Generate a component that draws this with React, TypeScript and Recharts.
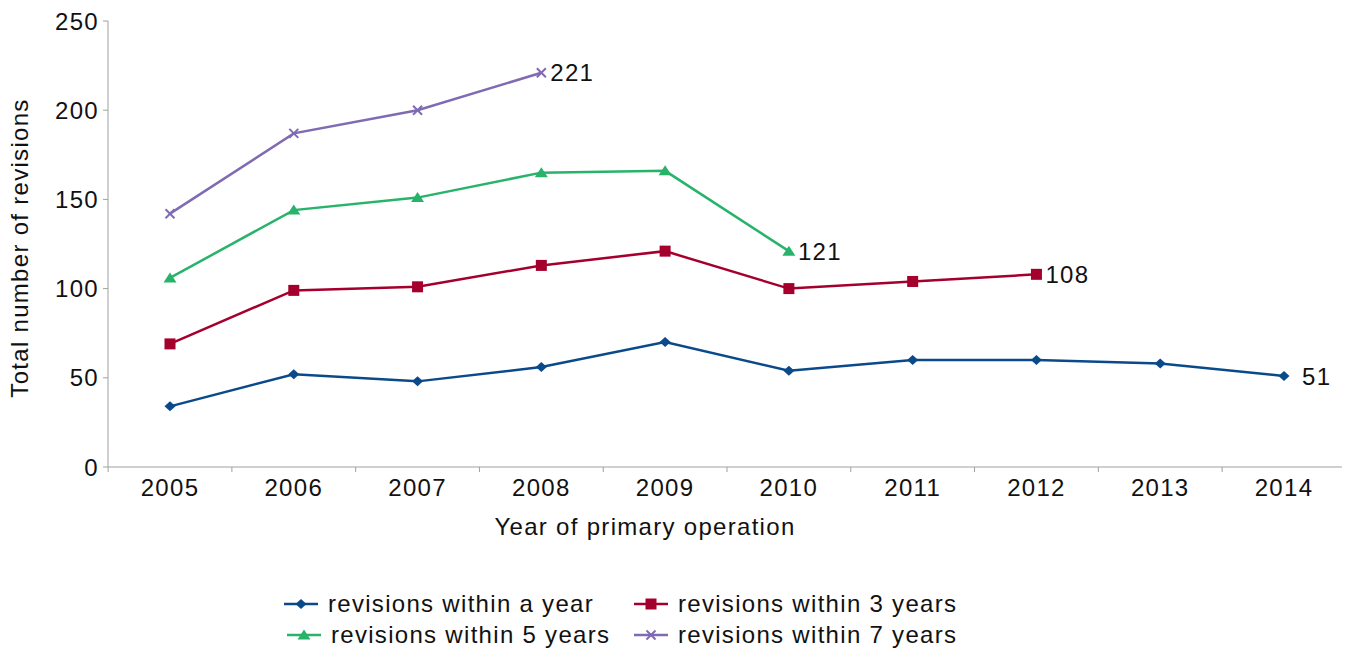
import React from "react";
import { LineChart, Line, XAxis, YAxis, Legend, LabelList } from "recharts";

const years = ["2005", "2006", "2007", "2008", "2009", "2010", "2011", "2012", "2013", "2014"];
const withinYear = [34, 52, 48, 56, 70, 54, 60, 60, 58, 51];
const within3 = [69, 99, 101, 113, 121, 100, 104, 108, null, null];
const within5 = [106, 144, 151, 165, 166, 121, null, null, null, null];
const within7 = [142, 187, 200, 221, null, null, null, null, null, null];
const yTicks = [0, 50, 100, 150, 200, 250];

const data = years.map((year, i) => ({
  year,
  y1: withinYear[i],
  y3: within3[i],
  y5: within5[i],
  y7: within7[i],
}));

const W = 1342;
const H = 642;
const Y_AXIS_W = 100;
const X_AXIS_H = 80;
const LEGEND_H = 103;
const MARGIN = { top: 13, right: 4, bottom: 0, left: 0 };
const PAD = 62;
const PLOT_W = W - MARGIN.left - MARGIN.right - Y_AXIS_W;
const BW = (PLOT_W - 2 * PAD) / (years.length - 1);
const AXIS_Y = H - LEGEND_H - X_AXIS_H - MARGIN.bottom;
const AXIS_COLOR = "#a0a0a0";
const TEXT = "#111";
const FONT = "'Liberation Sans', Arial, sans-serif";
const FS = 24;

type Shape = "diamond" | "square" | "triangle" | "cross";

const series: { key: string; name: string; color: string; shape: Shape; values: (number | null)[]; labelDx: number }[] = [
  { key: "y1", name: "revisions within a year", color: "#0a4a8a", shape: "diamond", values: withinYear, labelDx: 18 },
  { key: "y3", name: "revisions within 3 years", color: "#a5002d", shape: "square", values: within3, labelDx: 9 },
  { key: "y5", name: "revisions within 5 years", color: "#28b36a", shape: "triangle", values: within5, labelDx: 9 },
  { key: "y7", name: "revisions within 7 years", color: "#7f6ab3", shape: "cross", values: within7, labelDx: 9 },
];

const Marker = ({ cx, cy, shape, color }: { cx: number; cy: number; shape: Shape; color: string }) => {
  if (cx == null || cy == null) return null;
  if (shape === "diamond")
    return <polygon points={`${cx},${cy - 5} ${cx + 5.5},${cy} ${cx},${cy + 5} ${cx - 5.5},${cy}`} fill={color} />;
  if (shape === "square") return <rect x={cx - 5.5} y={cy - 5.5} width={11} height={11} fill={color} />;
  if (shape === "triangle")
    return <polygon points={`${cx},${cy - 5.5} ${cx + 6.5},${cy + 4.5} ${cx - 6.5},${cy + 4.5}`} fill={color} />;
  return (
    <g stroke={color} strokeWidth={2}>
      <line x1={cx - 4.5} y1={cy - 4.5} x2={cx + 4.5} y2={cy + 4.5} />
      <line x1={cx - 4.5} y1={cy + 4.5} x2={cx + 4.5} y2={cy - 4.5} />
    </g>
  );
};

const XTick = (props: any) => {
  const { x, payload, index } = props;
  const last = index === years.length - 1;
  return (
    <g>
      <line x1={x - BW / 2} x2={x - BW / 2} y1={AXIS_Y} y2={AXIS_Y + 5} stroke={AXIS_COLOR} />
      {last && <line x1={x + BW / 2} x2={x + BW / 2} y1={AXIS_Y} y2={AXIS_Y + 5} stroke={AXIS_COLOR} />}
      <text x={x} y={AXIS_Y + 20} textAnchor="middle" dominantBaseline="central" fontSize={FS} fill={TEXT} fontFamily={FONT}>
        {payload.value}
      </text>
    </g>
  );
};

const LegendBox = () => {
  const cols = [276, 626];
  const rows = [57, 88];
  return (
    <div style={{ position: "relative", width: W, height: LEGEND_H, fontFamily: FONT }}>
      {series.map((s, i) => (
        <div
          key={s.key}
          style={{
            position: "absolute",
            left: cols[i % 2] + (i === 2 ? 3 : 0),
            top: rows[Math.floor(i / 2)] - 15,
            height: 30,
            display: "flex",
            alignItems: "center",
            whiteSpace: "nowrap",
          }}
        >
          <svg width={34} height={14} style={{ marginRight: 10 }}>
            <line x1={0} x2={34} y1={7} y2={7} stroke={s.color} strokeWidth={2.5} />
            <Marker cx={17} cy={7} shape={s.shape} color={s.color} />
          </svg>
          <span style={{ fontSize: FS, color: TEXT }}>{s.name}</span>
        </div>
      ))}
    </div>
  );
};

export default function App() {
  return (
    <div style={{ fontFamily: FONT, letterSpacing: "1.3px" }}>
      <LineChart width={W} height={H} data={data} margin={MARGIN}>
        <XAxis
          dataKey="year"
          interval={0}
          padding={{ left: PAD, right: PAD }}
          height={X_AXIS_H}
          tickLine={false}
          tick={<XTick />}
          axisLine={{ stroke: AXIS_COLOR }}
          label={{
            content: () => (
              <text x={637} y={AXIS_Y + 59} textAnchor="middle" dominantBaseline="central" fontSize={FS} fill={TEXT} fontFamily={FONT}>
                Year of primary operation
              </text>
            ),
          }}
        />
        <YAxis
          width={Y_AXIS_W}
          domain={[0, 250]}
          ticks={yTicks}
          interval={0}
          tickSize={5}
          tickMargin={4}
          tickLine={{ stroke: AXIS_COLOR }}
          axisLine={{ stroke: AXIS_COLOR }}
          tick={{ fontSize: FS, fill: TEXT, fontFamily: FONT }}
          label={{
            content: (p: any) => {
              const vb = p.viewBox || { y: MARGIN.top, height: AXIS_Y - MARGIN.top };
              const cx = 11;
              const cy = vb.y + vb.height / 2 + 4;
              return (
                <text
                  x={cx}
                  y={cy}
                  transform={`rotate(-90 ${cx} ${cy})`}
                  textAnchor="middle"
                  dominantBaseline="central"
                  fontSize={FS}
                  fill={TEXT}
                  fontFamily={FONT}
                >
                  Total number of revisions
                </text>
              );
            },
          }}
        />
        <Legend verticalAlign="bottom" height={LEGEND_H} wrapperStyle={{ left: 0, bottom: 0, width: W }} content={<LegendBox />} />
        {series.map((s) => {
          const lastIdx = s.values.reduce((acc: number, v, i) => (v != null ? i : acc), -1);
          return (
            <Line
              key={s.key}
              dataKey={s.key}
              name={s.name}
              stroke={s.color}
              strokeWidth={2.5}
              isAnimationActive={false}
              activeDot={false}
              dot={(p: any) => <Marker key={`${s.key}-${p.index}`} cx={p.cx} cy={p.cy} shape={s.shape} color={s.color} />}
            >
              <LabelList
                dataKey={s.key}
                content={(p: any) =>
                  p.index === lastIdx ? (
                    <text x={p.x + s.labelDx} y={p.y} dominantBaseline="central" fontSize={FS} fill={TEXT} fontFamily={FONT}>
                      {p.value}
                    </text>
                  ) : null
                }
              />
            </Line>
          );
        })}
      </LineChart>
    </div>
  );
}
